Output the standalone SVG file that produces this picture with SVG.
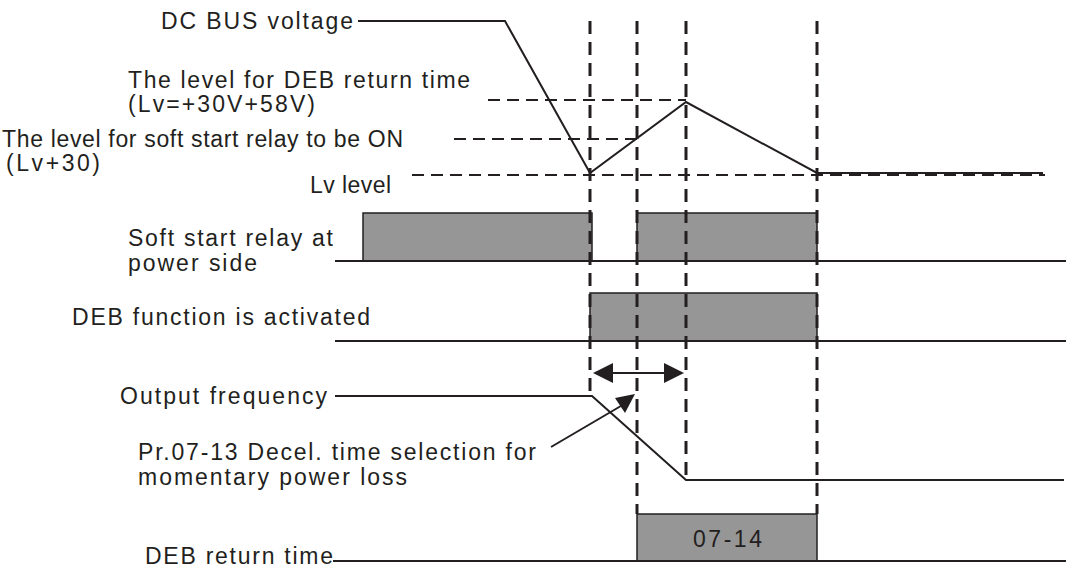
<svg xmlns="http://www.w3.org/2000/svg" width="1066" height="569" viewBox="0 0 1066 569">
<style>
  text { font-family: "Liberation Sans", Arial, sans-serif; font-size: 23px; fill: #231f20; }
  .sol { fill: none; stroke: #231f20; stroke-width: 2; }
  .vd { fill: none; stroke: #231f20; stroke-width: 3; stroke-dasharray: 13 8; }
  .hd { fill: none; stroke: #231f20; stroke-width: 2; stroke-dasharray: 12 7; }
  .bar { fill: #969696; stroke: #231f20; stroke-width: 1.5; }
  .head { fill: #231f20; stroke: none; }
</style>
<rect width="1066" height="569" fill="#ffffff"/>

<g id="timing-bars">
  <rect class="bar" x="363" y="213" width="229" height="48"/>
  <rect class="bar" x="637" y="213" width="180" height="48"/>
  <rect class="bar" x="590" y="293" width="227" height="48"/>
  <rect class="bar" x="637" y="514" width="180" height="47"/>
</g>

<g id="connectors">
  <!-- vertical dashed time markers -->
  <line class="vd" x1="590" y1="21" x2="590" y2="396"/>
  <line class="vd" x1="637" y1="21" x2="637" y2="514"/>
  <line class="vd" x1="686" y1="21" x2="686" y2="480"/>
  <line class="vd" x1="817" y1="21" x2="817" y2="514"/>
  <!-- horizontal dashed levels -->
  <line class="hd" x1="488" y1="100" x2="686" y2="100"/>
  <line class="hd" x1="454" y1="139" x2="637" y2="139"/>
  <line class="hd" x1="412" y1="175" x2="1045" y2="175"/>
  <!-- DC bus voltage curve -->
  <polyline class="sol" points="358,21 505,21 590,173 686,102 817,173 1043,173"/>
  <!-- signal baselines -->
  <line class="sol" x1="335" y1="261" x2="1066" y2="261"/>
  <line class="sol" x1="335" y1="341" x2="1066" y2="341"/>
  <polyline class="sol" points="335,396 592,396 686,480 1064,480"/>
  <line class="sol" x1="333" y1="561" x2="1066" y2="561"/>
  <!-- double arrow -->
  <line class="sol" x1="605" y1="373" x2="672" y2="373"/>
  <polygon class="head" points="593,373 613,363 613,383"/>
  <polygon class="head" points="684,373 664,363 664,383"/>
  <!-- pointer arrow -->
  <line class="sol" x1="551" y1="447" x2="626" y2="403"/>
  <polygon class="head" points="635,394 615,398 625,413"/>
</g>

<g id="labels">
  <text x="161" y="29" textLength="192" lengthAdjust="spacing">DC BUS voltage</text>
  <text x="128" y="88" textLength="342" lengthAdjust="spacing">The level for DEB return time</text>
  <text x="128" y="112" textLength="187" lengthAdjust="spacing">(Lv=+30V+58V)</text>
  <text x="2" y="147" textLength="401" lengthAdjust="spacing">The level for soft start relay to be ON</text>
  <text x="6" y="171" textLength="94" lengthAdjust="spacing">(Lv+30)</text>
  <text x="310" y="193" textLength="81" lengthAdjust="spacing">Lv level</text>
  <text x="128" y="246" textLength="205" lengthAdjust="spacing">Soft start relay at</text>
  <text x="128" y="271" textLength="129" lengthAdjust="spacing">power side</text>
  <text x="72" y="325" textLength="298" lengthAdjust="spacing">DEB function is activated</text>
  <text x="120" y="404" textLength="207" lengthAdjust="spacing">Output frequency</text>
  <text x="138" y="460" textLength="398" lengthAdjust="spacing">Pr.07-13 Decel. time selection for</text>
  <text x="138" y="485" textLength="269" lengthAdjust="spacing">momentary power loss</text>
  <text x="145" y="564" textLength="188" lengthAdjust="spacing">DEB return time</text>
  <text x="693" y="547" textLength="69" lengthAdjust="spacing">07-14</text>
</g>
</svg>
